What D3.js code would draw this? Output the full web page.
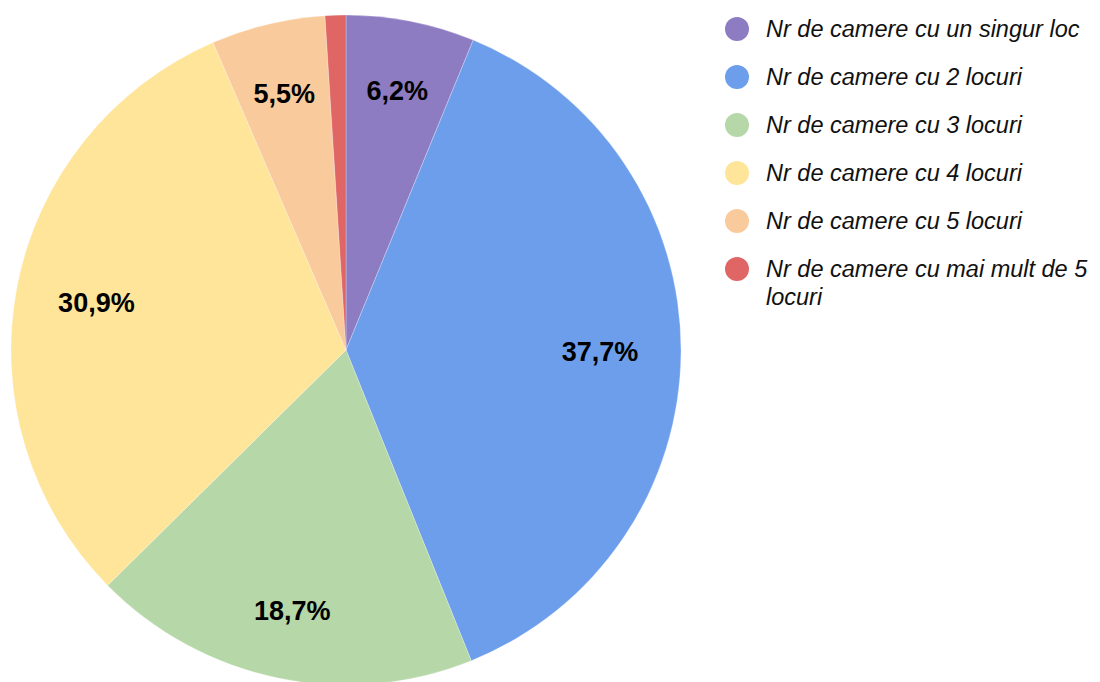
<!DOCTYPE html>
<html>
<head>
<meta charset="utf-8">
<script src="https://cdn.jsdelivr.net/npm/d3@7"></script>
<style>
  body { margin: 0; background: #fff; }
  svg { display: block; }
</style>
</head>
<body>
<div id="chart"></div>
<script>
// slice data
var categories = [
    "Nr de camere cu un singur loc",
    "Nr de camere cu 2 locuri",
    "Nr de camere cu 3 locuri",
    "Nr de camere cu 4 locuri",
    "Nr de camere cu 5 locuri",
    "Nr de camere cu mai mult de 5 locuri"
];
var values = [6.2, 37.7, 18.7, 30.9, 5.5, 1.0];
var labels = ["6,2%", "37,7%", "18,7%", "30,9%", "5,5%", ""];
var colors = ["#8e7cc3", "#6d9eeb", "#b6d7a8", "#ffe599", "#f9cb9c", "#e06666"];

const width = 1100, height = 682;
const cx = 346, cy = 350, radius = 335;

var svg = d3.select("#chart")
    .append("svg")
    .attr("width", width)
    .attr("height", height);

var data = categories.map(function (c, i) {
    return { name: c, value: values[i], label: labels[i], color: colors[i] };
});

var pie = d3.pie()
    .value(function (d) { return d.value; })
    .sort(null);

var arc = d3.arc().innerRadius(0).outerRadius(radius);

var g = svg.append("g")
    .attr("transform", "translate(" + cx + "," + cy + ")");

var arcs = pie(data);

g.selectAll("path")
    .data(arcs)
    .enter()
    .append("path")
    .attr("d", arc)
    .attr("fill", function (d) { return d.data.color; })
    .attr("stroke", "#ffffff")
    .attr("stroke-width", 0.5)
    .attr("stroke-opacity", 0.5);

// labels sit a bit closer in where the text is wide across the radius
const labelPos = (d) => {
    var a = (d.startAngle + d.endAngle) / 2;
    var r = radius * 0.8 - 14 * Math.abs(Math.sin(a));
    return [r * Math.sin(a), -r * Math.cos(a) + 1];
};

g.selectAll("text.lbl")
    .data(arcs)
    .enter()
    .append("text")
    .attr("class", "lbl")
    .attr("transform", function (d) { return "translate(" + labelPos(d) + ")"; })
    .attr("text-anchor", "middle")
    .attr("dy", "0.35em")
    .style("font-family", "Liberation Sans, Arial, sans-serif")
    .style("font-size", "27px")
    .style("font-weight", "bold")
    .style("fill", "#000")
    .text(function (d) { return d.data.label; });

// legend
var legendY = d3.scalePoint()
    .domain(categories)
    .range([29, 269]);

var legend = svg.append("g");

var items = legend.selectAll("g")
    .data(data)
    .enter()
    .append("g")
    .attr("transform", function (d) { return "translate(737," + legendY(d.name) + ")"; });

items.append("circle")
    .attr("r", 12)
    .attr("fill", function (d) { return d.color; });

items.append("text")
    .attr("x", 29)
    .attr("dy", "0.35em")
    .style("font-family", "Liberation Sans, Arial, sans-serif")
    .style("font-size", "23.5px")
    .style("font-style", "italic")
    .style("fill", "#111")
    .each(function (d) {
        // wrap the long last entry like the original
        var t = d3.select(this);
        var words = d.name.split(" ");
        if (d.name.length > 32) {
            t.append("tspan").attr("x", 29).text(words.slice(0, -1).join(" "));
            t.append("tspan").attr("x", 29).attr("dy", "1.2em").text(words[words.length - 1]);
        } else {
            t.text(d.name);
        }
    });
</script>
</body>
</html>
